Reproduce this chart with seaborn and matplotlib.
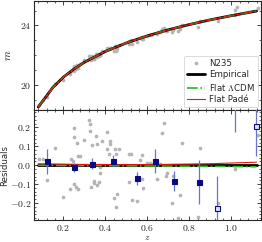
import matplotlib
matplotlib.use("Agg")
import matplotlib.pyplot as plt
import seaborn as sns
import numpy as np
import pandas as pd
from matplotlib.ticker import AutoMinorLocator, MultipleLocator, FuncFormatter

# model curve
z_curve = [0.08, 0.10, 0.15, 0.20, 0.25, 0.30, 0.40, 0.50, 0.60, 0.70, 0.80, 0.90, 1.00, 1.10, 1.12]
m_curve = [18.50, 18.88, 19.83, 20.52, 21.06, 21.52, 22.25, 22.82, 23.30, 23.71, 24.06, 24.38, 24.66, 24.92, 24.97]

# residual curves (bottom panel)
z_res = [0.08, 0.30, 0.60, 0.90, 1.12]
res_emp = [0.0, 0.0, 0.0, 0.0, 0.0]
res_lcdm = [0.000, -0.002, -0.004, -0.006, -0.008]
res_pade = [0.008, 0.004, 0.003, 0.008, 0.016]

# N235 points
z_pts = [0.084, 0.102, 0.160, 0.121, 0.199, 0.237, 0.248, 0.251, 0.264, 0.245,
         0.229, 0.250, 0.260, 0.267, 0.267, 0.280, 0.299, 0.324, 0.326, 0.327,
         0.333, 0.338, 0.345, 0.347, 0.356, 0.360, 0.359, 0.369, 0.375, 0.376,
         0.372, 0.386, 0.408, 0.421, 0.424, 0.407, 0.419, 0.448, 0.450, 0.465,
         0.448, 0.441, 0.454, 0.449, 0.513, 0.510, 0.526, 0.522, 0.575, 0.551,
         0.576, 0.578, 0.567, 0.599, 0.613, 0.618, 0.662, 0.646, 0.670, 0.681,
         0.689, 0.695, 0.716, 0.721, 0.757, 0.764, 0.748, 0.851, 0.840, 1.019,
         1.025, 1.019, 1.129, 0.935]
m_pts = [18.61, 18.95, 20.06, 19.20, 20.34, 20.95, 21.24, 21.22, 21.31, 21.02,
         20.70, 20.96, 21.04, 21.10, 21.27, 21.39, 21.65, 21.94, 21.92, 21.90,
         21.64, 21.91, 21.77, 21.77, 22.08, 21.85, 22.06, 21.93, 22.03, 22.08,
         22.04, 22.28, 22.47, 22.50, 22.50, 22.38, 22.42, 22.60, 22.59, 22.71,
         22.52, 22.31, 22.40, 22.31, 22.94, 22.78, 22.76, 22.99, 23.24, 22.88,
         23.11, 23.07, 23.17, 23.31, 23.37, 23.38, 23.56, 23.41, 23.76, 23.86,
         23.61, 23.65, 23.57, 23.72, 23.75, 24.06, 23.60, 24.31, 23.91, 24.69,
         25.27, 25.03, 25.16, 24.27]
r_pts = [0.033, 0.033, 0.091, -0.079, -0.170, 0.032, 0.198, 0.149, 0.117, 0.021,
         -0.128, -0.100, -0.114, -0.125, 0.051, 0.049, 0.135, 0.237, 0.219, 0.179,
         -0.117, 0.109, -0.083, -0.093, 0.153, -0.107, 0.112, -0.088, -0.040, 0.000,
         -0.010, 0.128, 0.175, 0.130, 0.112, 0.088, 0.059, 0.084, 0.060, 0.088,
         0.005, -0.175, -0.154, -0.219, 0.059, -0.088, -0.184, 0.061, 0.056, -0.188,
         -0.074, -0.121, 0.026, 0.012, 0.014, 0.004, 0.004, -0.072, 0.172, 0.226,
         -0.056, -0.040, -0.198, -0.058, -0.156, 0.119, -0.280, 0.091, -0.275, -0.018,
         0.550, 0.320, 0.160, -0.200]

# binned residuals
z_bin = [0.121, 0.251, 0.337, 0.438, 0.551, 0.638, 0.727, 0.845, 0.933, 1.019, 1.119]
r_bin = [0.021, -0.011, 0.009, 0.025, -0.070, 0.021, -0.083, -0.088, -0.228, 0.347, 0.207]
e_bin = [0.066, 0.025, 0.028, 0.030, 0.035, 0.063, 0.053, 0.115, 0.170, 0.170, 0.160]
open_bin = [False, False, False, False, False, False, False, False, True, True, True]

sns.set_style("ticks")
plt.rcParams["font.family"] = ["DejaVu Sans"]
plt.rcParams["mathtext.fontset"] = "cm"

pts = pd.DataFrame({"z": z_pts, "m": m_pts, "r": r_pts})
crv = pd.DataFrame({"z": z_curve, "m": m_curve})
rc = pd.DataFrame({"z": z_res, "emp": res_emp, "lcdm": res_lcdm, "pade": res_pade})

fig, (ax1, ax2) = plt.subplots(2, 1, figsize=(2.62, 2.42), dpi=100, sharex=True)
fig.subplots_adjust(left=0.130, right=0.996, top=0.996, bottom=0.091, hspace=0)

gray = "#b4b4b4"
sns.scatterplot(data=pts, x="z", y="m", ax=ax1, color=gray, s=7, linewidth=0, label="N235", zorder=2)
sns.lineplot(data=crv, x="z", y="m", ax=ax1, color="black", lw=2.0, label="Empirical", zorder=3)
sns.lineplot(data=crv, x="z", y="m", ax=ax1, color="#22bb22", lw=1.2, ls="-.", label=r"Flat $\Lambda$CDM", zorder=4)
sns.lineplot(data=crv, x="z", y="m", ax=ax1, color="#ee1111", lw=0.8, label="Flat Padé", zorder=5)

leg = ax1.legend(loc="lower right", fontsize=6.2, frameon=True, fancybox=True,
                 handlelength=2.0, borderpad=0.35, labelspacing=0.3, handletextpad=0.5,
                 borderaxespad=0.35)
leg.get_frame().set_edgecolor("#cccccc")
leg.get_frame().set_linewidth(0.6)

sns.scatterplot(data=pts, x="z", y="r", ax=ax2, color=gray, s=7, linewidth=0, zorder=2)
sns.lineplot(data=rc, x="z", y="emp", ax=ax2, color="black", lw=2.0, zorder=3)
sns.lineplot(data=rc, x="z", y="lcdm", ax=ax2, color="#22bb22", lw=1.2, ls="-.", zorder=4)
sns.lineplot(data=rc, x="z", y="pade", ax=ax2, color="#ee1111", lw=0.8, zorder=5)

for zb, rb, eb, op in zip(z_bin, r_bin, e_bin, open_bin):
    ax2.errorbar(zb, rb, yerr=eb, fmt="s", ms=3.6, color="#6676cc", lw=0.9,
                 mfc="#dde0ff" if op else "#0a0a80", mec="#0a0a80", mew=0.8, zorder=6)

ax1.set_xlim(0.06, 1.141)
ax1.set_ylim(18.27, 25.65)
ax2.set_ylim(-0.29, 0.29)

ax1.yaxis.set_major_locator(MultipleLocator(4))
ax1.yaxis.set_minor_locator(AutoMinorLocator(4))
ax2.yaxis.set_major_locator(MultipleLocator(0.1))
ax2.yaxis.set_minor_locator(AutoMinorLocator(5))
ax2.xaxis.set_major_locator(MultipleLocator(0.2))
ax2.xaxis.set_minor_locator(AutoMinorLocator(5))

ax1.yaxis.set_major_formatter(FuncFormatter(lambda v, p: f"${v:.0f}$"))
ax2.yaxis.set_major_formatter(FuncFormatter(lambda v, p: f"${v:.1f}$"))
ax2.xaxis.set_major_formatter(FuncFormatter(lambda v, p: f"${v:.1f}$"))

for ax in (ax1, ax2):
    ax.tick_params(which="both", direction="in", top=True, right=True, labelsize=7, pad=2)
    ax.tick_params(which="major", length=3, width=0.6)
    ax.tick_params(which="minor", length=1.6, width=0.5)
    for s in ax.spines.values():
        s.set_linewidth(0.8)

ax1.set_xlabel("")
ax1.set_ylabel("$m$", fontsize=8)
ax1.yaxis.set_label_coords(-0.095, 0.5)
ax2.set_ylabel("Residuals", fontsize=6.2)
ax2.yaxis.set_label_coords(-0.112, 0.5)
ax2.set_xlabel("$z$", fontsize=6.5)
ax2.xaxis.set_label_coords(0.5, -0.118)

fig.savefig("out.png", dpi=100)
